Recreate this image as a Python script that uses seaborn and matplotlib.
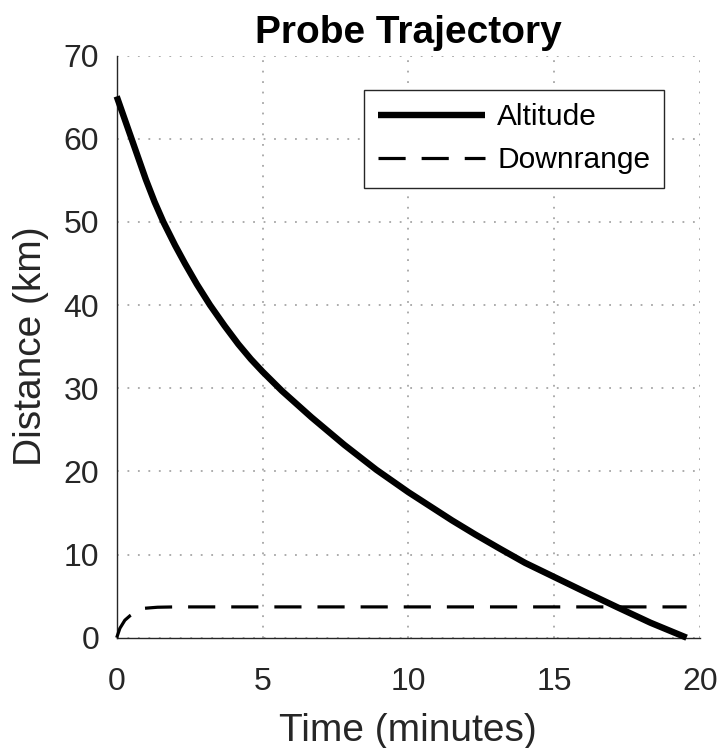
import matplotlib
matplotlib.use("Agg")
import matplotlib.pyplot as plt
import pandas as pd
import seaborn as sns

# ---- data ----
time_alt = [0.0, 0.25, 0.51, 0.75, 1.0, 1.3, 1.6, 2.0, 2.34, 2.75, 3.2, 3.7,
            4.17, 4.6, 5.0, 5.66, 6.68, 7.8, 8.9, 10.0, 11.5, 12.3, 13.14,
            14.0, 15.0, 16.0, 17.14, 18.3, 19.54]
altitude_km = [65.1, 62.6, 60.0, 57.6, 55.1, 52.4, 50.0, 47.2, 45.0, 42.5,
               40.0, 37.5, 35.3, 33.5, 32.0, 29.7, 26.5, 23.2, 20.2, 17.5,
               14.1, 12.4, 10.7, 9.0, 7.3, 5.6, 3.7, 1.8, 0.0]

time_down = [0.0, 0.11, 0.28, 0.46, 0.7, 0.97, 1.4, 2.0, 19.54]
downrange_km = [0.0, 1.13, 2.1, 2.65, 3.2, 3.54, 3.66, 3.7, 3.7]

series_names = ["Altitude", "Downrange"]
x_ticks = [0, 5, 10, 15, 20]
y_ticks = [0, 10, 20, 30, 40, 50, 60, 70]

# ---- style ----
sns.set_style("white")
plt.rcParams["font.family"] = ["Liberation Sans", "DejaVu Sans"]

fig = plt.figure(figsize=(7.19, 7.48), dpi=100)
ax = fig.add_axes([0.1623, 0.1475, 0.8113, 0.7781])

alt_df = pd.DataFrame({"Time": time_alt, "Distance": altitude_km})
down_df = pd.DataFrame({"Time": time_down, "Distance": downrange_km})

sns.lineplot(data=alt_df, x="Time", y="Distance", ax=ax, color="black",
             linewidth=4.6, label=series_names[0], sort=False, estimator=None)
sns.lineplot(data=down_df, x="Time", y="Distance", ax=ax, color="black",
             linewidth=2.3, linestyle=(0, (8.5, 5.0)), label=series_names[1],
             sort=False, estimator=None)

for ln in ax.get_lines():
    ln.set_clip_on(False)
    ln.set_zorder(3)
    ln.set_solid_joinstyle("round")
    ln.set_solid_capstyle("butt")

ax.set_xlim(0, 20)
ax.set_ylim(0, 70)
ax.set_xticks(x_ticks)
ax.set_yticks(y_ticks)

ax.grid(True, color="#a6a6a6", linewidth=1.3, linestyle=(0, (1, 4.8)))
ax.set_axisbelow(True)

for side in ["top", "right"]:
    ax.spines[side].set_visible(False)
for side in ["left", "bottom"]:
    ax.spines[side].set_color("#262626")
    ax.spines[side].set_linewidth(1.0)

ax.tick_params(axis="both", direction="in", length=3.6, width=1.0,
               colors="#262626", labelsize=23)
ax.tick_params(axis="x", pad=20.9)
ax.tick_params(axis="y", pad=12.5)

ax.set_xlabel("Time (minutes)", fontsize=28, color="#262626", labelpad=12)
ax.set_ylabel("Distance (km)", fontsize=28, color="#262626", labelpad=10.8)
ax.set_title("Probe Trajectory", fontsize=28, fontweight="bold",
             color="black", pad=9)

leg = ax.legend(loc="upper right", bbox_to_anchor=(0.938, 0.941),
                borderaxespad=0, fontsize=21.5, frameon=True, fancybox=False,
                framealpha=1, edgecolor="#262626", borderpad=0.45,
                labelspacing=0.5, handlelength=3.6, handletextpad=0.4)
leg.get_frame().set_linewidth(1.0)
for t in leg.get_texts():
    t.set_color("black")

fig.savefig("out.png", dpi=100, facecolor="white")
